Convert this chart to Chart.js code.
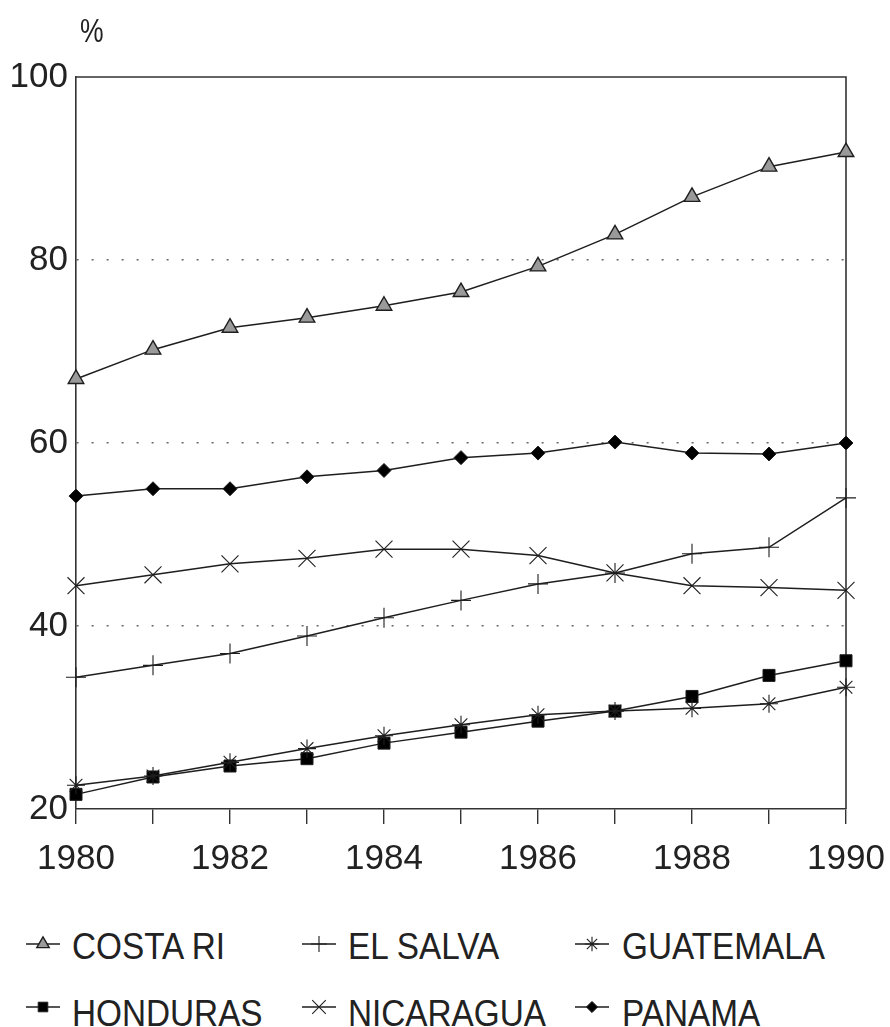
<!DOCTYPE html>
<html>
<head>
<meta charset="utf-8">
<script src="https://cdn.jsdelivr.net/npm/chart.js@4/dist/chart.umd.min.js"></script>
<style>
  html, body { margin: 0; padding: 0; background: #fff; }
  #wrap { position: relative; width: 890px; height: 1027px; overflow: hidden; font-family: 'Liberation Sans', Arial, sans-serif; color: #222; }
  #chartBox { position: absolute; left: 0; top: 0; width: 890px; height: 900px; }
  .pct { position: absolute; left: 80px; top: 13px; font-size: 34px; line-height: 34px; transform: scaleX(0.78); transform-origin: left top; }
  .lg-icon { position: absolute; }
  .lg-text { position: absolute; font-size: 37px; line-height: 37px; white-space: nowrap; transform: scaleX(0.9); transform-origin: left top; }
</style>
</head>
<body>
<div id="wrap">
  <div id="chartBox"><canvas id="c" width="890" height="900"></canvas></div>
  <div class="pct">%</div>
  <div id="legend"></div>
</div>
<script>
const years = ['1980','1981','1982','1983','1984','1985','1986','1987','1988','1989','1990'];
const costaRica  = [67.0, 70.2, 72.6, 73.7, 75.0, 76.5, 79.3, 82.8, 86.9, 90.2, 91.8];
const elSalvador = [34.4, 35.7, 37.0, 38.9, 40.9, 42.8, 44.6, 45.8, 47.9, 48.6, 54.0];
const guatemala  = [22.6, 23.6, 25.1, 26.6, 28.0, 29.2, 30.3, 30.7, 31.0, 31.5, 33.3];
const honduras   = [21.6, 23.5, 24.7, 25.5, 27.2, 28.4, 29.6, 30.7, 32.3, 34.6, 36.2];
const nicaragua  = [44.4, 45.6, 46.8, 47.4, 48.4, 48.4, 47.7, 45.8, 44.4, 44.2, 43.9];
const panama     = [54.2, 55.0, 55.0, 56.3, 57.0, 58.4, 58.9, 60.1, 58.9, 58.8, 60.0];
const seriesNames = ['COSTA RI', 'EL SALVA', 'GUATEMALA', 'HONDURAS', 'NICARAGUA', 'PANAMA'];
const yTicks = [20, 40, 60, 80, 100];

const INK = '#1e1e1e';
const styles = [
  { pointStyle: 'triangle', radius: 9,   fill: '#9a9a9a', bw: 1.4 },
  { pointStyle: 'cross',    radius: 10,  fill: INK,       bw: 1.1 },
  { pointStyle: 'star',     radius: 9,   fill: INK,       bw: 1.1 },
  { pointStyle: 'rect',     radius: 8.5, fill: '#000',    bw: 1 },
  { pointStyle: 'crossRot', radius: 12,  fill: INK,       bw: 1.1 },
  { pointStyle: 'rectRot',  radius: 7,   fill: '#000',    bw: 1 }
];
const seriesData = [costaRica, elSalvador, guatemala, honduras, nicaragua, panama];

const datasets = seriesData.map((d, i) => ({
  label: seriesNames[i],
  data: d,
  borderColor: INK,
  borderWidth: 1.5,
  tension: 0,
  fill: false,
  clip: false,
  pointStyle: styles[i].pointStyle,
  pointRadius: styles[i].radius,
  pointHoverRadius: styles[i].radius,
  pointBackgroundColor: styles[i].fill,
  pointBorderColor: INK,
  pointBorderWidth: styles[i].bw
}));

const boxPlugin = {
  id: 'box',
  beforeDatasetsDraw(chart) {
    const a = chart.chartArea, ctx = chart.ctx;
    ctx.save();
    ctx.strokeStyle = '#333';
    ctx.lineWidth = 1.6;
    ctx.setLineDash([]);
    ctx.beginPath();
    ctx.moveTo(a.left, a.top);
    ctx.lineTo(a.right, a.top);
    ctx.lineTo(a.right, a.bottom);
    ctx.stroke();
    ctx.restore();
  }
};

new Chart(document.getElementById('c'), {
  type: 'line',
  data: { labels: years, datasets },
  plugins: [boxPlugin],
  options: {
    responsive: false,
    animation: false,
    events: [],
    layout: { padding: { top: 77, right: 44, left: 0, bottom: 0 } },
    plugins: { legend: { display: false }, tooltip: { enabled: false } },
    scales: {
      x: {
        type: 'category',
        offset: false,
        afterFit(s) { s.height = 91; s.paddingLeft = 0; s.paddingRight = 0; },
        border: { display: true, color: '#333', width: 1.6 },
        grid: { drawOnChartArea: false, drawTicks: true, tickLength: 15, color: '#333', lineWidth: 1.4, offset: false },
        ticks: {
          autoSkip: false, maxRotation: 0, padding: 14, color: '#222',
          font: { family: "'Liberation Sans', Arial, sans-serif", size: 35 },
          callback(value) { const l = this.getLabelForValue(value); return (parseInt(l) % 2 === 0) ? l : ''; }
        }
      },
      y: {
        min: 20, max: 100,
        afterFit(s) { s.width = 76; },
        afterBuildTicks(s) { s.ticks = yTicks.map(v => ({ value: v })); },
        grid: {
          drawTicks: false,
          color: (c) => (c.tick && (c.tick.value === 20 || c.tick.value === 100)) ? 'rgba(0,0,0,0)' : '#666',
          lineWidth: 1.5
        },
        border: { display: true, color: '#333', width: 1.6, dash: [2, 13] },
        ticks: {
          padding: 8, color: '#222',
          font: { family: "'Liberation Sans', Arial, sans-serif", size: 35 }
        }
      }
    }
  }
});

// Legend (HTML text + canvas icons)
const legendPos = [
  { ix: 26,  iy: 944,  tx: 72,  ty: 928 },
  { ix: 302, iy: 944,  tx: 348, ty: 928 },
  { ix: 575, iy: 944,  tx: 622, ty: 928 },
  { ix: 26,  iy: 1007, tx: 72,  ty: 995 },
  { ix: 302, iy: 1007, tx: 348, ty: 995 },
  { ix: 575, iy: 1007, tx: 622, ty: 995 }
];
const legend = document.getElementById('legend');
seriesNames.forEach((name, i) => {
  const p = legendPos[i];
  const cv = document.createElement('canvas');
  cv.width = 40; cv.height = 30;
  cv.className = 'lg-icon';
  cv.style.left = p.ix + 'px';
  cv.style.top = (p.iy - 15) + 'px';
  const ctx = cv.getContext('2d');
  ctx.strokeStyle = INK; ctx.lineWidth = 1.4;
  ctx.beginPath(); ctx.moveTo(0, 15); ctx.lineTo(34, 15); ctx.stroke();
  ctx.fillStyle = styles[i].fill; ctx.strokeStyle = INK; ctx.lineWidth = styles[i].bw;
  if (Chart.helpers && Chart.helpers.drawPoint) {
    Chart.helpers.drawPoint(ctx, { pointStyle: styles[i].pointStyle, radius: styles[i].radius * 0.8, rotation: 0, borderWidth: styles[i].bw }, 17, 15);
  }
  legend.appendChild(cv);
  const t = document.createElement('div');
  t.className = 'lg-text';
  t.textContent = name;
  t.style.left = p.tx + 'px';
  t.style.top = p.ty + 'px';
  legend.appendChild(t);
});
</script>
</body>
</html>
